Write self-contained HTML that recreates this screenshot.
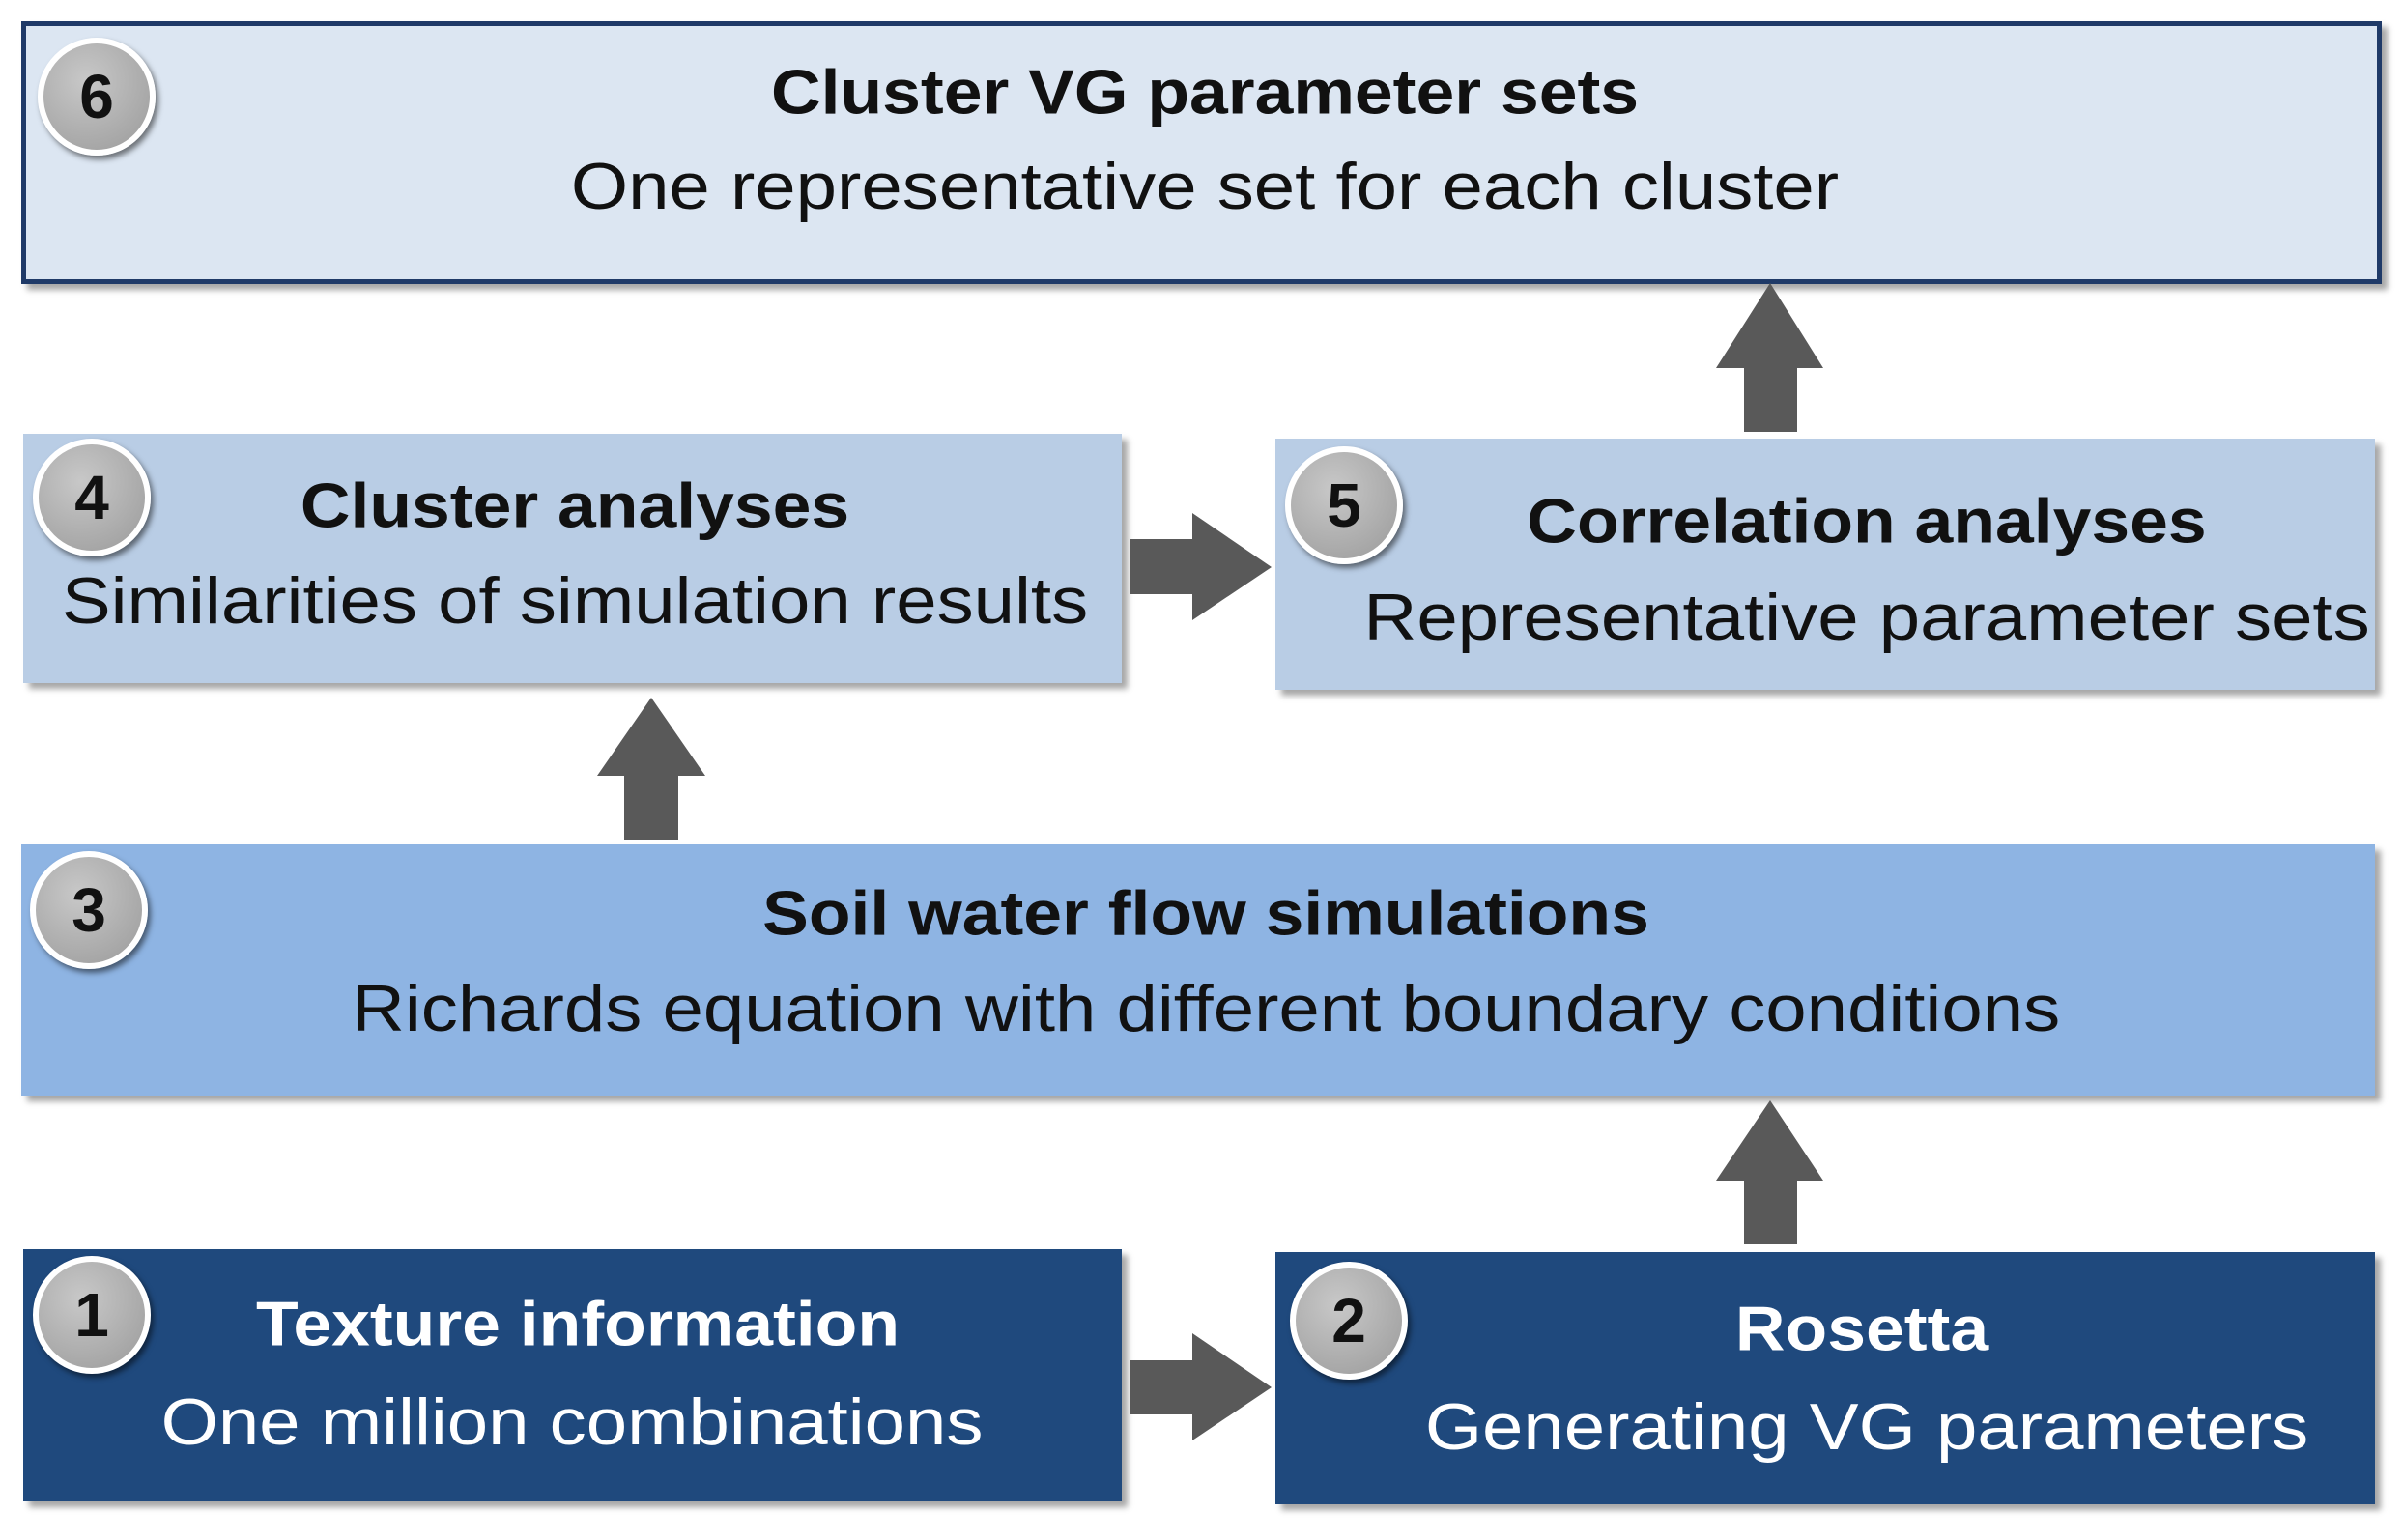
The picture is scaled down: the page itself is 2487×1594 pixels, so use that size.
<!DOCTYPE html>
<html><head><meta charset="utf-8"><style>
body{margin:0;width:2487px;height:1594px;background:#fff;position:relative;overflow:hidden;font-family:"Liberation Sans",sans-serif}
.b{position:absolute;box-shadow:6px 6px 6px rgba(0,0,0,0.35)}
.c{position:absolute;width:122px;height:122px;border-radius:50%;background:radial-gradient(circle at 40% 35%,#c8c8c8,#9a9a9a);border:6px solid #fff;box-shadow:3px 4px 6px rgba(0,0,0,0.5);box-sizing:border-box;font-weight:bold;font-size:64px;color:#111;text-align:center;line-height:110px}
.t{position:absolute;transform:translate(-50%,-50%) scaleX(1.1);white-space:nowrap;font-size:65px;font-weight:bold;color:#111}
.s{position:absolute;transform:translate(-50%,-50%) scaleX(1.12);white-space:nowrap;font-size:68px;color:#111}
.w{color:#fff}
</style></head><body>
<div class="b" style="left:22px;top:22px;width:2433px;height:262px;background:#dce6f2;border:5px solid #1f3a68"></div>
<div class="b" style="left:24px;top:449px;width:1137px;height:258px;background:#b9cde5"></div>
<div class="b" style="left:1320px;top:454px;width:1138px;height:260px;background:#b9cde5"></div>
<div class="b" style="left:22px;top:874px;width:2436px;height:260px;background:#8eb4e3"></div>
<div class="b" style="left:24px;top:1293px;width:1137px;height:261px;background:#1f497d"></div>
<div class="b" style="left:1320px;top:1296px;width:1138px;height:261px;background:#1f497d"></div>

<svg style="position:absolute;left:0;top:0" width="2487" height="1594">
<g fill="#595959">
<polygon points="1169,558 1234,558 1234,531 1316,587 1234,642 1234,615 1169,615"/>
<polygon points="1169,1408 1234,1408 1234,1380 1316,1436 1234,1491 1234,1464 1169,1464"/>
<polygon points="1805,447 1805,381 1776,381 1832,293 1887,381 1860,381 1860,447"/>
<polygon points="646,869 646,803 618,803 674,722 730,803 702,803 702,869"/>
<polygon points="1805,1288 1805,1222 1776,1222 1832,1139 1887,1222 1860,1222 1860,1288"/>
</g></svg>

<div class="c" style="left:39px;top:39px">6</div>
<div class="c" style="left:34px;top:454px">4</div>
<div class="c" style="left:1330px;top:462px">5</div>
<div class="c" style="left:31px;top:881px">3</div>
<div class="c" style="left:34px;top:1300px">1</div>
<div class="c" style="left:1335px;top:1306px">2</div>

<div class="t" style="left:1247px;top:95px">Cluster VG parameter sets</div>
<div class="s" style="left:1247px;top:193px">One representative set for each cluster</div>
<div class="t" style="left:595px;top:523px">Cluster analyses</div>
<div class="s" style="left:595px;top:622px">Similarities of simulation results</div>
<div class="t" style="left:1932px;top:539px">Correlation analyses</div>
<div class="s" style="left:1932px;top:639px">Representative parameter sets</div>
<div class="t" style="left:1248px;top:945px">Soil water flow simulations</div>
<div class="s" style="left:1248px;top:1044px">Richards equation with different boundary conditions</div>
<div class="t w" style="left:598px;top:1370px">Texture information</div>
<div class="s w" style="left:592px;top:1472px">One million combinations</div>
<div class="t w" style="left:1927px;top:1375px">Rosetta</div>
<div class="s w" style="left:1932px;top:1477px">Generating VG parameters</div>
</body></html>
